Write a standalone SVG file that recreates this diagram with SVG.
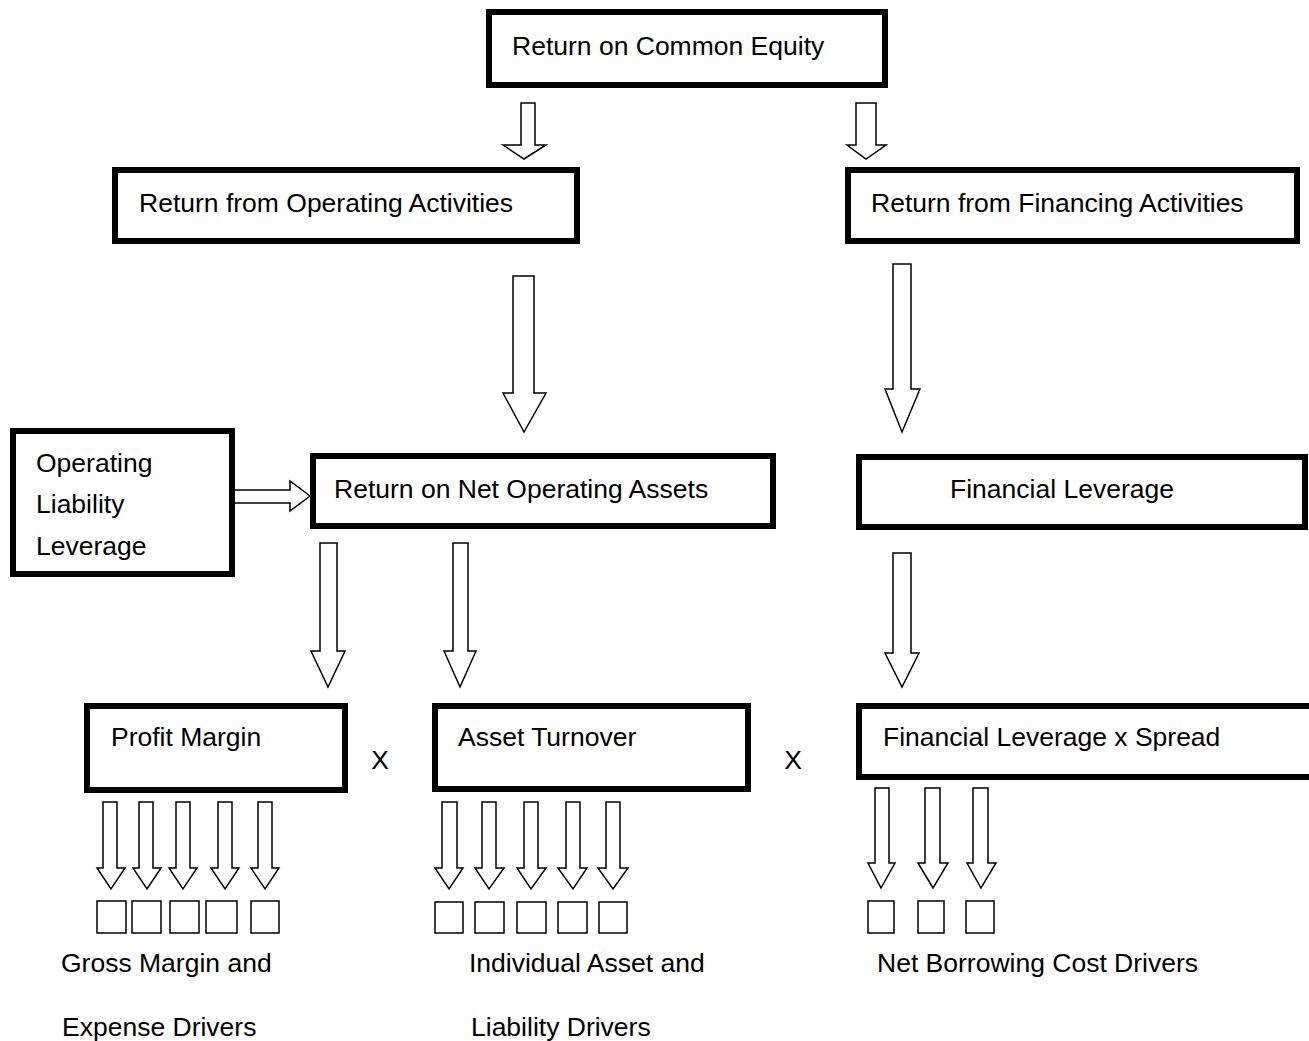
<svg xmlns="http://www.w3.org/2000/svg" width="1309" height="1041" viewBox="0 0 1309 1041">
<style>
.box{fill:#fff;stroke:#000;stroke-width:6}
.arr{fill:#fff;stroke:#000;stroke-width:1.5;stroke-linejoin:miter}
.sq{fill:#fff;stroke:#000;stroke-width:1.5}
text{font-family:"Liberation Sans",Arial,sans-serif;font-size:26.5px;fill:#000}
</style>
<rect width="1309" height="1041" fill="#fff"/>
<g id="connectors">
<polygon class="arr" points="521,103 535,103 535,145 546,145 524,159 503,145 521,145"/>
<polygon class="arr" points="856,103 876,103 876,145 886,145 866,159 847,145 856,145"/>
<polygon class="arr" points="513,276 534,276 534,393 546,393 524,432 503,393 513,393"/>
<polygon class="arr" points="893,264 911,264 911,389 920,389 902,432 885,389 893,389"/>
<polygon class="arr" points="233,490 290,490 290,481 310,496 290,511 290,503 233,503"/>
<polygon class="arr" points="320,543 337,543 337,651 345,651 328,687 311,651 320,651"/>
<polygon class="arr" points="453,543 468,543 468,651 476,651 460,687 444,651 453,651"/>
<polygon class="arr" points="893,553 911,553 911,653 919,653 902,687 885,653 893,653"/>
<g id="pm-arrows">
<polygon class="arr" points="103,802 117,802 117,868 125,868 111,889 97,868 103,868"/>
<polygon class="arr" points="139,802 153,802 153,868 161,868 147,889 133,868 139,868"/>
<polygon class="arr" points="176,802 190,802 190,868 197,868 183,889 169,868 176,868"/>
<polygon class="arr" points="218,802 232,802 232,868 239,868 225,889 211,868 218,868"/>
<polygon class="arr" points="258,802 272,802 272,868 279,868 265,889 251,868 258,868"/>
</g>
<g id="at-arrows">
<polygon class="arr" points="442,802 457,802 457,868 463,868 449,889 435,868 442,868"/>
<polygon class="arr" points="482,802 496,802 496,868 504,868 489,889 475,868 482,868"/>
<polygon class="arr" points="524,802 538,802 538,868 546,868 531,889 517,868 524,868"/>
<polygon class="arr" points="566,802 580,802 580,868 587,868 573,889 558,868 566,868"/>
<polygon class="arr" points="606,802 620,802 620,868 628,868 613,889 598,868 606,868"/>
</g>
<g id="fl-arrows">
<polygon class="arr" points="875,788 889,788 889,863 895,863 881,888 868,863 875,863"/>
<polygon class="arr" points="925,788 940,788 940,863 948,863 933,888 918,863 925,863"/>
<polygon class="arr" points="973,788 988,788 988,863 996,863 981,888 967,863 973,863"/>
</g>
</g>
<g id="roce"><rect class="box" x="489" y="12" width="396" height="73"/><text x="512" y="55">Return on Common Equity</text></g>
<g id="rfoa"><rect class="box" x="115" y="170" width="462" height="71"/><text x="139" y="212">Return from Operating Activities</text></g>
<g id="rffa"><rect class="box" x="848" y="170" width="449" height="71"/><text x="871" y="212">Return from Financing Activities</text></g>
<g id="oll"><rect class="box" x="13" y="431" width="219" height="143"/><text x="36" y="472">Operating</text><text x="36" y="513">Liability</text><text x="36" y="555">Leverage</text></g>
<g id="rnoa"><rect class="box" x="313" y="456" width="460" height="70"/><text x="334" y="498">Return on Net Operating Assets</text></g>
<g id="fl"><rect class="box" x="859" y="457" width="446" height="70"/><text x="950" y="498">Financial Leverage</text></g>
<g id="pm"><rect class="box" x="87" y="706" width="258" height="84"/><text x="111" y="746">Profit Margin</text></g>
<g id="at"><rect class="box" x="435" y="706" width="313" height="83"/><text x="458" y="746">Asset Turnover</text></g>
<g id="flxs"><rect class="box" x="859" y="706" width="460" height="71"/><text x="883" y="746">Financial Leverage x Spread</text></g>
<g id="times"><text x="380" y="769" text-anchor="middle">X</text><text x="793" y="769" text-anchor="middle">X</text></g>
<g id="pm-drivers">
<rect class="sq" x="97" y="901" width="29" height="32"/>
<rect class="sq" x="132" y="901" width="29" height="32"/>
<rect class="sq" x="170" y="901" width="29" height="32"/>
<rect class="sq" x="206" y="901" width="31" height="32"/>
<rect class="sq" x="251" y="901" width="28" height="32"/>
<text x="61" y="972">Gross Margin and</text>
<text x="62" y="1036">Expense Drivers</text>
</g>
<g id="at-drivers">
<rect class="sq" x="435" y="902" width="28" height="31"/>
<rect class="sq" x="475" y="902" width="29" height="31"/>
<rect class="sq" x="517" y="902" width="29" height="31"/>
<rect class="sq" x="558" y="902" width="29" height="31"/>
<rect class="sq" x="599" y="902" width="28" height="31"/>
<text x="469" y="972">Individual Asset and</text>
<text x="471" y="1036">Liability Drivers</text>
</g>
<g id="fl-drivers">
<rect class="sq" x="868" y="901" width="26" height="32"/>
<rect class="sq" x="918" y="901" width="26" height="32"/>
<rect class="sq" x="966" y="901" width="28" height="32"/>
<text x="877" y="972">Net Borrowing Cost Drivers</text>
</g>
</svg>
